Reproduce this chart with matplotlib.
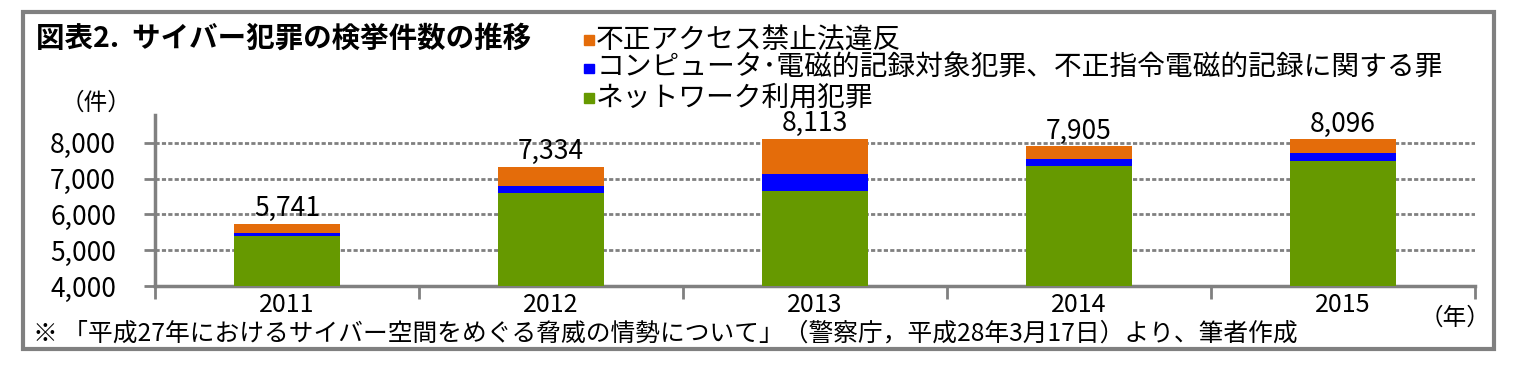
import matplotlib
matplotlib.use("Agg")
import matplotlib.pyplot as plt
from matplotlib.patches import Rectangle
import numpy as np

plt.rcParams['font.family'] = ['Noto Sans CJK JP', 'DejaVu Sans']

# データ（件）
years = ['2011', '2012', '2013', '2014', '2015']
network = [5388, 6613, 6655, 7349, 7483]        # ネットワーク利用犯罪
computer = [105, 178, 478, 192, 240]            # コンピュータ・電磁的記録対象犯罪等
access = [248, 543, 980, 364, 373]              # 不正アクセス禁止法違反
yticks = [4000, 5000, 6000, 7000, 8000]
legend_labels = ['不正アクセス禁止法違反',
                 'コンピュータ･電磁的記録対象犯罪、不正指令電磁的記録に関する罪',
                 'ネットワーク利用犯罪']

c_green = '#669900'
c_blue = '#0000FF'
c_orange = '#E46C0A'
c_gray = '#808080'

fig = plt.figure(figsize=(15.15, 3.65), dpi=100)
ax = fig.add_axes([0.1023, 0.2164, 0.8713, 0.4686])

x = np.arange(len(years))
net = np.array(network)
comp = np.array(computer)
acc = np.array(access)
w = 0.4
ax.bar(x, net, w, color=c_green, zorder=3)
ax.bar(x, comp, w, bottom=net, color=c_blue, zorder=3)
ax.bar(x, acc, w, bottom=net + comp, color=c_orange, zorder=3)

totals = net + comp + acc
for xi, t in zip(x, totals):
    ax.text(xi, t + 40, f'{t:,}', ha='center', va='bottom', fontsize=19)

ax.set_ylim(4000, 8780)
ax.set_xlim(-0.5, len(years) - 0.5)
ax.set_yticks(yticks)
ax.set_yticklabels([f'{v:,}' for v in yticks], fontsize=19)
ax.set_xticks(x)
ax.set_xticklabels(years, fontsize=18)
ax.set_xticks(np.arange(-0.5, len(years), 1.0), minor=True)
ax.tick_params(axis='x', which='major', length=0, pad=4)
ax.tick_params(axis='x', which='minor', length=9, width=2, color=c_gray)
ax.tick_params(axis='y', length=8, width=2, color=c_gray, pad=20)

ax.grid(axis='y', color=c_gray, linestyle=(0, (1.5, 0.8)), linewidth=2, zorder=1)
for s in ['top', 'right']:
    ax.spines[s].set_visible(False)
for s in ['left', 'bottom']:
    ax.spines[s].set_color(c_gray)
    ax.spines[s].set_linewidth(2.5)

# タイトル・注記
fig.text(0.024, 0.893, '図表2.  サイバー犯罪の検挙件数の推移', fontsize=20.5,
         fontweight='bold', va='center', ha='left')
fig.text(0.040, 0.718, '（件）', fontsize=17, va='center', ha='left')
fig.text(0.937, 0.128, '（年）', fontsize=17, va='center', ha='left')
fig.text(0.022, 0.085, '※ 「平成27年におけるサイバー空間をめぐる脅威の情勢について」（警察庁，平成28年3月17日）より、筆者作成',
         fontsize=17.8, va='center', ha='left')

# 凡例
leg_colors = [c_orange, c_blue, c_green]
leg_y = [0.890, 0.813, 0.733]
for lab, col, yy in zip(legend_labels, leg_colors, leg_y):
    fig.patches.append(Rectangle((0.3855, yy - 0.014), 0.0066, 0.027,
                                 transform=fig.transFigure, color=col))
    fig.text(0.3935, yy, lab, fontsize=20, va='center', ha='left')

fig.patches.append(Rectangle((0.015, 0.045), 0.971, 0.922, transform=fig.transFigure,
                             fill=False, edgecolor=c_gray, linewidth=3))

fig.savefig('out.png', dpi=100)
